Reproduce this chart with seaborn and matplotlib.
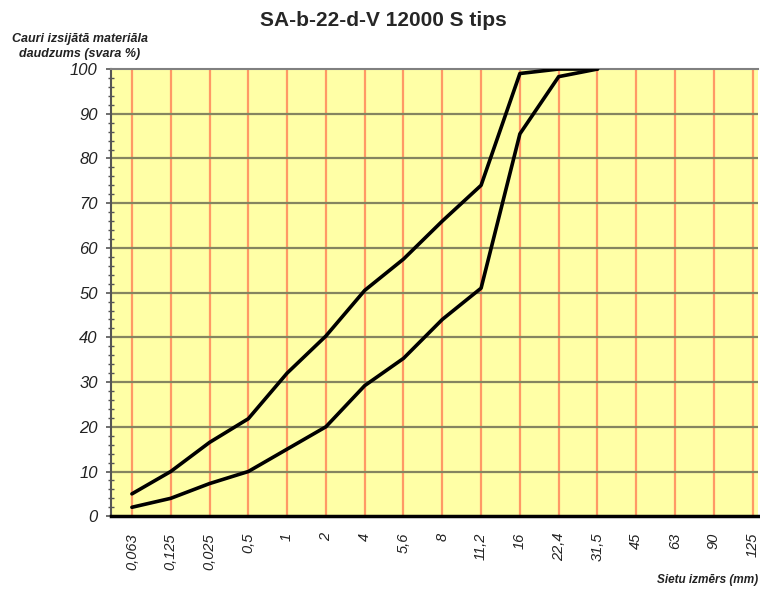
import matplotlib
matplotlib.use("Agg")
import matplotlib.pyplot as plt
from matplotlib.ticker import MultipleLocator
import pandas as pd
import seaborn as sns

# Sieve sizes (mm) as printed on the axis
sieve_labels = ["0,063", "0,125", "0,025", "0,5", "1", "2", "4", "5,6", "8",
                "11,2", "16", "22,4", "31,5", "45", "63", "90", "125"]

# Grading envelope: passing percentage by sieve (first 13 sieves)
lower_bound = [2, 4, 7.3, 10, 15, 20, 29.2, 35.3, 44, 51, 85.5, 98.3, 100]
upper_bound = [5, 10, 16.5, 21.8, 32, 40.3, 50.5, 57.5, 66, 74, 99, 100, 100]
y_ticks = list(range(0, 101, 10))

rows = []
for name, vals in (("lower", lower_bound), ("upper", upper_bound)):
    for i, v in enumerate(vals):
        rows.append({"pos": i, "passing": v, "bound": name})
df = pd.DataFrame(rows)

sns.set_theme(style="white")
plt.rcParams["font.family"] = ["Liberation Sans", "DejaVu Sans"]

fig = plt.figure(figsize=(7.6, 5.92), dpi=100)
ax = fig.add_axes([0.146, 0.128, 0.851, 0.7554])
ax.set_facecolor("#ffffa6")

# grid: orange verticals at each sieve, dark horizontals every 10 %
for i in range(len(sieve_labels)):
    ax.axvline(i, color="#ff9966", lw=1.6, zorder=1)
for y in y_ticks[1:-1]:
    ax.axhline(y, color="#858560", lw=1.6, zorder=1)

sns.lineplot(data=df, x="pos", y="passing", hue="bound", units="bound",
             estimator=None, palette={"lower": "black", "upper": "black"},
             lw=2.6, legend=False, ax=ax, zorder=3, sort=False)

ax.set_xlim(-0.54, 16.13)
ax.set_ylim(0, 100)
ax.set_xticks(range(len(sieve_labels)))
ax.set_xticklabels(sieve_labels, rotation=90, fontstyle="italic",
                   fontsize=10.5, color="#222222")
ax.set_yticks(y_ticks)
ax.set_yticklabels([str(v) for v in y_ticks], fontstyle="italic",
                   fontsize=12, color="#222222")
ax.yaxis.set_minor_locator(MultipleLocator(2))
ax.tick_params(axis="y", which="major", direction="inout", length=7, width=1.2,
               color="#555555", left=True, pad=6)
ax.tick_params(axis="y", which="minor", direction="inout", length=5, width=1,
               color="#555555", left=True)
ax.tick_params(axis="x", length=0, pad=12)
ax.set_xlabel("")
ax.set_ylabel("")

ax.spines["right"].set_visible(False)
ax.spines["top"].set_color("#808080")
ax.spines["top"].set_linewidth(1.5)
ax.spines["left"].set_color("#555555")
ax.spines["left"].set_linewidth(1.5)
ax.spines["bottom"].set_color("black")
ax.spines["bottom"].set_linewidth(2.5)

fig.text(0.505, 0.965, "SA-b-22-d-V 12000 S tips", ha="center", va="center",
         fontsize=15, fontweight="bold")
fig.text(0.105, 0.922, "Cauri izsijātā materiāla\ndaudzums (svara %)",
         ha="center", va="center", fontsize=9, fontweight="bold",
         fontstyle="italic", linespacing=1.35, color="#222222")
fig.text(0.997, 0.01, "Sietu izmērs (mm)", ha="right", va="bottom",
         fontsize=8.5, fontweight="bold", fontstyle="italic", color="#222222")

fig.savefig("out.png", dpi=100)
